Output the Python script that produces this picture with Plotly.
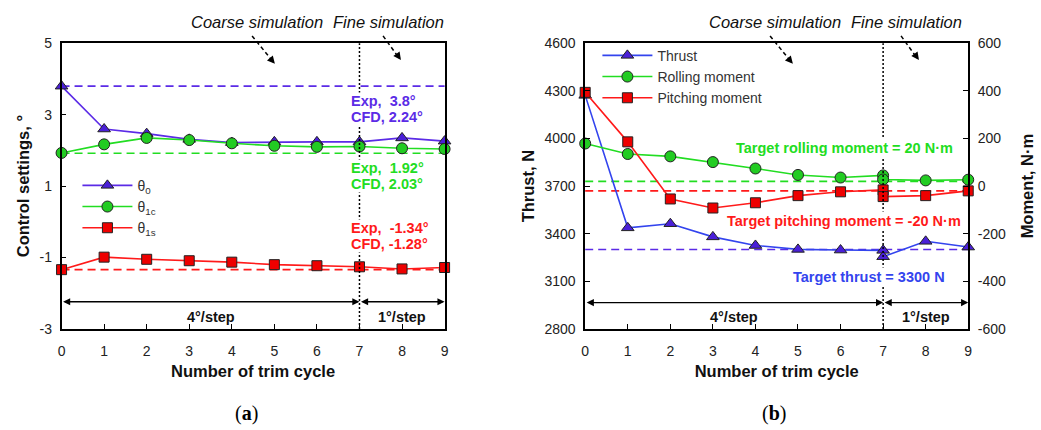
import plotly.graph_objects as go

# ---------------- data ----------------
cycles = [0, 1, 2, 3, 4, 5, 6, 7, 8, 9]
theta0 = [3.80, 2.60, 2.47, 2.31, 2.22, 2.24, 2.24, 2.24, 2.35, 2.26]
theta1c = [1.93, 2.17, 2.35, 2.29, 2.20, 2.13, 2.10, 2.11, 2.06, 2.04]
theta1s = [-1.34, -0.99, -1.05, -1.09, -1.13, -1.20, -1.23, -1.26, -1.32, -1.28]
exp_theta = [3.80, 1.92, -1.34]

cycles_b = [0, 1, 2, 3, 4, 5, 6, 7, 7, 8, 9]
thrust = [4272, 3437, 3463, 3380, 3326, 3301, 3297, 3295, 3255, 3352, 3316]
rolling = [179, 135, 125, 101, 74, 47, 36, 45, 28, 24, 27]
pitching = [394, 186, -54, -92, -70, -40, -24, -16, -44, -40, -20]
target_thrust = 3300
target_roll = 20
target_pitch = -20

x_ticks = [0, 1, 2, 3, 4, 5, 6, 7, 8, 9]
ya_ticks = [-3, -1, 1, 3, 5]
yb_ticks = [2800, 3100, 3400, 3700, 4000, 4300, 4600]
yc_ticks = [-600, -400, -200, 0, 200, 400, 600]

# ---------------- style ----------------
W, H = 1041, 430
PURPLE = "#5B2BE6"
BLUE = "#3344EE"
MK_BLUE = "#4A1FD8"
GREEN = "#22DD22"
MK_GREEN = "#22CC22"
RED = "#FF1A1A"
MK_RED = "#EE0000"
FONT = "Liberation Sans, Arial, sans-serif"
NB = "&nbsp;"

def px(x):
    return x / W

def py(y):
    return 1 - y / H

def lbl(v):
    return str(v).replace("−", "-")

dom_a = [px(58), px(444)]
dom_b = [px(585.7), px(971.7)]
dom_y = [py(333.3), py(36.7)]

fig = go.Figure()

mk_line = dict(color="#222222", width=1)
MS = 11

# ---- panel (a)
fig.add_trace(go.Scatter(x=cycles, y=theta0, mode="lines+markers", name="θ<sub>0</sub>",
                         line=dict(color=PURPLE, width=1.6),
                         marker=dict(symbol="triangle-up", size=MS, color=MK_BLUE, line=mk_line),
                         xaxis="x", yaxis="y", legend="legend", cliponaxis=False))
fig.add_trace(go.Scatter(x=cycles, y=theta1c, mode="lines+markers", name="θ<sub>1c</sub>",
                         line=dict(color=GREEN, width=1.6),
                         marker=dict(symbol="circle", size=MS, color=MK_GREEN, line=mk_line),
                         xaxis="x", yaxis="y", legend="legend", cliponaxis=False))
fig.add_trace(go.Scatter(x=cycles, y=theta1s, mode="lines+markers", name="θ<sub>1s</sub>",
                         line=dict(color=RED, width=1.6),
                         marker=dict(symbol="square", size=MS - 1, color=MK_RED, line=mk_line),
                         xaxis="x", yaxis="y", legend="legend", cliponaxis=False))

# ---- panel (b)
fig.add_trace(go.Scatter(x=cycles_b, y=thrust, mode="lines+markers", name="Thrust",
                         line=dict(color=BLUE, width=1.6),
                         marker=dict(symbol="triangle-up", size=MS, color=MK_BLUE, line=mk_line),
                         xaxis="x2", yaxis="y2", legend="legend2", cliponaxis=False))
fig.add_trace(go.Scatter(x=cycles_b, y=rolling, mode="lines+markers", name="Rolling moment",
                         line=dict(color=GREEN, width=1.6),
                         marker=dict(symbol="circle", size=MS, color=MK_GREEN, line=mk_line),
                         xaxis="x2", yaxis="y3", legend="legend2", cliponaxis=False))
fig.add_trace(go.Scatter(x=cycles_b, y=pitching, mode="lines+markers", name="Pitching moment",
                         line=dict(color=RED, width=1.6),
                         marker=dict(symbol="square", size=MS - 1, color=MK_RED, line=mk_line),
                         xaxis="x2", yaxis="y3", legend="legend2", cliponaxis=False))

shapes = []
# target dashed lines (a)
for val, col in zip(exp_theta, [PURPLE, GREEN, RED]):
    shapes.append(dict(type="line", xref="x domain", yref="y", x0=0, x1=1, y0=val, y1=val,
                       line=dict(color=col, width=1.6, dash="8px,5px"), layer="below"))
# target dashed lines (b)
shapes.append(dict(type="line", xref="x2 domain", yref="y2", x0=0, x1=1, y0=target_thrust, y1=target_thrust,
                   line=dict(color=PURPLE, width=1.6, dash="8px,5px"), layer="below"))
shapes.append(dict(type="line", xref="x2 domain", yref="y3", x0=0, x1=1, y0=target_roll, y1=target_roll,
                   line=dict(color=GREEN, width=1.6, dash="8px,5px"), layer="below"))
shapes.append(dict(type="line", xref="x2 domain", yref="y3", x0=0, x1=1, y0=target_pitch, y1=target_pitch,
                   line=dict(color=RED, width=1.6, dash="8px,5px"), layer="below"))
# vertical dotted line at cycle 7
shapes.append(dict(type="line", xref="x", yref="y domain", x0=7, x1=7, y0=0, y1=1,
                   line=dict(color="black", width=1.5, dash="2px,2px"), layer="above"))
shapes.append(dict(type="line", xref="x2", yref="y2 domain", x0=7, x1=7, y0=0, y1=1,
                   line=dict(color="black", width=1.5, dash="2px,2px"), layer="above"))
# dashed pointer arrows (shafts)
for (x0, y0, x1, y1) in [(250, 29, 269, 53), (382, 29, 396, 49), (772, 29, 791, 53), (904, 29, 918, 49)]:
    shapes.append(dict(type="line", xref="paper", yref="paper", x0=px(x0), y0=py(y0), x1=px(x1), y1=py(y1),
                       line=dict(color="black", width=1.5, dash="4px,3px"), layer="above"))

ann = []
# arrowheads for pointers
for (xt, yt, axo, ayo) in [(273, 58, -6, -7), (400, 54, -5, -7), (795, 58, -6, -7), (922, 54, -5, -7)]:
    ann.append(dict(xref="paper", yref="paper", x=px(xt), y=py(yt), ax=axo, ay=ayo, text="",
                    showarrow=True, arrowhead=2, arrowsize=1.1, arrowwidth=1.4, arrowcolor="black"))
# coarse/fine labels
for (cx, t) in [(255, "Coarse simulation"), (387, "Fine simulation"), (777, "Coarse simulation"), (909, "Fine simulation")]:
    ann.append(dict(xref="paper", yref="paper", x=px(cx), y=py(15), text=t, showarrow=False,
                    font=dict(family=FONT, size=16.5, color="#111111", style="italic"),
                    xanchor="center", yanchor="middle"))

# double-headed step arrows
for (xr, yr, ya, ylab) in [("x", "y", -2.24, -2.66), ("x2", "y2", 2966, 2877)]:
    for (a0, a1) in [(0, 7), (7, 9)]:
        ann.append(dict(xref=xr, yref=yr, axref=xr, ayref=yr, x=a1, y=ya, ax=a0, ay=ya, text="",
                        showarrow=True, arrowhead=2, arrowside="end+start", arrowsize=1.1,
                        arrowwidth=1.3, arrowcolor="black"))
    ann.append(dict(xref=xr, yref=yr, x=3.5, y=ylab, text="<b>4°/step</b>", showarrow=False,
                    font=dict(family=FONT, size=14.5, color="#111111")))
    ann.append(dict(xref=xr, yref=yr, x=8, y=ylab, text="<b>1°/step</b>", showarrow=False,
                    font=dict(family=FONT, size=14.5, color="#111111")))

# panel (a) value labels (two lines each)
for (y1, y2, t1, t2, col) in [(3.39, 2.94, "Exp," + NB + NB + "3.8°", "CFD, 2.24°", PURPLE),
                              (1.50, 1.05, "Exp," + NB + NB + "1.92°", "CFD, 2.03°", GREEN),
                              (-0.18, -0.61, "Exp," + NB + NB + "-1.34°", "CFD, -1.28°", RED)]:
    for (yv, t) in [(y1, t1), (y2, t2)]:
        ann.append(dict(xref="x", yref="y", x=6.77, y=yv, text="<b>" + t + "</b>", showarrow=False,
                        xanchor="left", yanchor="middle", align="left", bgcolor="white",
                        borderpad=0,
                        font=dict(family=FONT, size=14.5, color=col)))

# panel (b) target labels
for (xv, yv, t, col) in [(6.09, 3940, "Target rolling moment = 20 N·m", GREEN),
                         (6.09, 3477, "Target pitching moment = -20 N·m", RED),
                         (6.67, 3127, "Target thrust = 3300 N", BLUE)]:
    ann.append(dict(xref="x2", yref="y2", x=xv, y=yv, text="<b>" + t + "</b>", showarrow=False,
                    xanchor="center", yanchor="middle", bgcolor="white",
                    font=dict(family=FONT, size=14.5, color=col)))

# captions
for (cx, t) in [(244, "(<b>a</b>)"), (776, "(<b>b</b>)")]:
    ann.append(dict(xref="paper", yref="paper", x=px(cx), y=py(421), text=t, showarrow=False,
                    xanchor="center", yanchor="middle",
                    font=dict(family="Liberation Serif, DejaVu Serif, serif", size=20, color="black")))

axis_common = dict(showline=True, linecolor="black", linewidth=1.5, ticks="inside", ticklen=5,
                   tickcolor="black", showgrid=False, zeroline=False,
                   tickfont=dict(family=FONT, size=14, color="#222222"))
title_font = dict(family=FONT, size=16.5, color="#111111")

fig.update_layout(
    width=W, height=H, margin=dict(l=0, r=0, t=0, b=0),
    paper_bgcolor="white", plot_bgcolor="white",
    font=dict(family=FONT),
    xaxis=dict(domain=dom_a, range=[0, 9], tickvals=x_ticks, ticktext=[lbl(v) for v in x_ticks],
               mirror=True, anchor="y", ticklabelstandoff=9,
               title=dict(text="<b>Number of trim cycle</b>", font=title_font, standoff=7),
               **axis_common),
    yaxis=dict(domain=dom_y, range=[-3, 5], tickvals=ya_ticks, ticktext=[lbl(v) for v in ya_ticks],
               mirror=True, anchor="x", ticklabelstandoff=5,
               title=dict(text="<b>Control settings, °</b>", font=title_font, standoff=6),
               **axis_common),
    xaxis2=dict(domain=dom_b, range=[0, 9], tickvals=x_ticks, ticktext=[lbl(v) for v in x_ticks],
                mirror=True, anchor="y2", ticklabelstandoff=9,
                title=dict(text="<b>Number of trim cycle</b>", font=title_font, standoff=7),
                **axis_common),
    yaxis2=dict(domain=dom_y, range=[2800, 4600], tickvals=yb_ticks, ticktext=[lbl(v) for v in yb_ticks],
                anchor="x2", ticklabelstandoff=5,
                title=dict(text="<b>Thrust, N</b>", font=title_font, standoff=6),
                **axis_common),
    yaxis3=dict(domain=dom_y, range=[-600, 600], tickvals=yc_ticks, ticktext=[lbl(v) for v in yc_ticks],
                overlaying="y2", side="right", anchor="x2", ticklabelstandoff=5,
                title=dict(text="<b>Moment, N·m</b>", font=title_font, standoff=16),
                **axis_common),
    legend=dict(x=px(74), y=py(168), xanchor="left", yanchor="top", bgcolor="rgba(0,0,0,0)",
                font=dict(family=FONT, size=14, color="#333333"), tracegroupgap=0, itemwidth=50),
    legend2=dict(x=px(598), y=py(33), xanchor="left", yanchor="top", bgcolor="rgba(0,0,0,0)",
                 font=dict(family=FONT, size=14, color="#333333"), tracegroupgap=0, itemwidth=50),
    shapes=shapes, annotations=ann, showlegend=True,
)

fig.write_html("out.html")
